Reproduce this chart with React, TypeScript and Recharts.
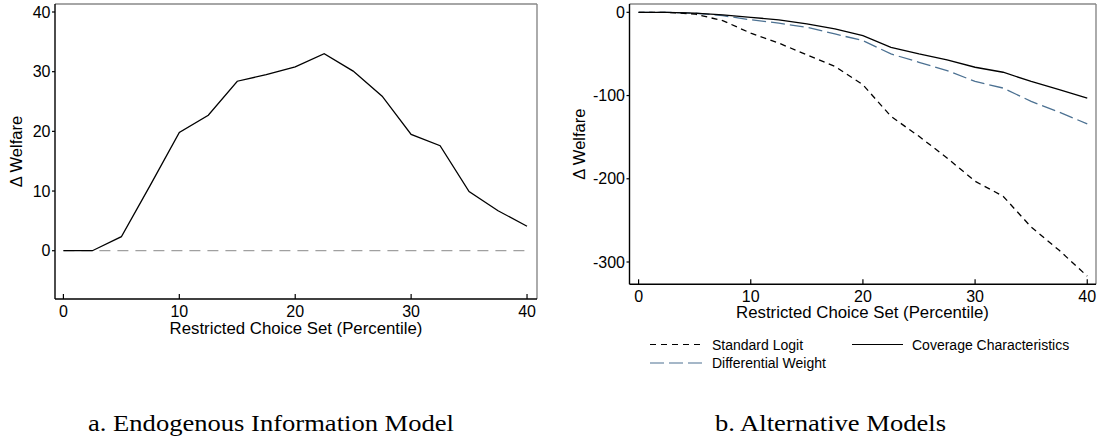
import React from "react";
import { LineChart, Line, XAxis, YAxis, ReferenceLine } from "recharts";

// ---- data ----
const percentiles = [0, 2.5, 5, 7.5, 10, 12.5, 15, 17.5, 20, 22.5, 25, 27.5, 30, 32.5, 35, 37.5, 40];
const endogenousWelfare = [0, 0, 2.35, 11, 19.8, 22.7, 28.4, 29.5, 30.8, 33.0, 30.1, 25.9, 19.5, 17.6, 9.9, 6.7, 4.1];
const standardLogit = [0, 0, -2, -10, -25, -37, -51, -65, -87, -125, -149, -175, -203, -221, -258, -286, -317];
const coverageCharacteristics = [0, 0, -1, -3, -6, -9, -14, -20, -28, -42, -50, -57, -66, -72, -83, -93, -103];
const differentialWeight = [0, 0, -1, -4, -9, -13, -18, -26, -34, -50, -60, -70, -83, -91, -107, -120, -134];

const xTicks = [0, 10, 20, 30, 40];
const leftYTicks = [0, 10, 20, 30, 40];
const rightYTicks = [-300, -200, -100, 0];

const xAxisTitle = "Restricted Choice Set (Percentile)";
const yAxisTitle = "\u0394 Welfare";
const legendLabels = ["Standard Logit", "Coverage Characteristics", "Differential Weight"];
const captions = ["a. Endogenous Information Model", "b. Alternative Models"];

const leftData = percentiles.map((p, i) => ({ p, w: endogenousWelfare[i] }));
const rightData = percentiles.map((p, i) => ({
  p,
  sl: standardLogit[i],
  cc: coverageCharteristicsSafe(i),
  dw: differentialWeight[i],
}));
function coverageCharteristicsSafe(i: number) {
  return coverageCharacteristics[i];
}

const FONT = "'Liberation Sans', Arial, Helvetica, sans-serif";
const BLUE = "#4c7192";

const XTick = (props: any) => {
  const { x, y, payload } = props;
  return (
    <g>
      <line x1={x} x2={x} y1={y} y2={y - 5} stroke="#000" strokeWidth={1.2} />
      <text x={x} y={y + 17.5} textAnchor="middle" fontSize={16} fontFamily={FONT} fill="#000">
        {payload.value}
      </text>
    </g>
  );
};

const yTickStyle = { fontSize: 16, fontFamily: FONT, fill: "#000" };

export default function App() {
  return (
    <div style={{ position: "absolute", left: 0, top: 0, width: 1099, height: 442, background: "#fff" }}>
      <div style={{ position: "absolute", left: 0, top: 0 }}>
        <LineChart width={550} height={340} data={leftData} margin={{ top: 4, right: 13, bottom: 0, left: 0 }}>
          <XAxis
            dataKey="p"
            type="number"
            domain={[-0.725, 40.86]}
            ticks={xTicks}
            allowDataOverflow
            height={41}
            tickSize={0}
            tickMargin={0}
            tickLine={false}
            tick={<XTick />}
            axisLine={{ stroke: "#000", strokeWidth: 1.4 }}
            interval={0}
          />
          <YAxis
            type="number"
            domain={[-8.09, 41.34]}
            ticks={leftYTicks}
            allowDataOverflow
            width={55}
            tickSize={3}
            tickMargin={1.5}
            tick={yTickStyle}
            tickLine={{ stroke: "#000", strokeWidth: 1.2 }}
            axisLine={{ stroke: "#000", strokeWidth: 1.4 }}
            interval={0}
          />
          <ReferenceLine y={41.34} stroke="#888" strokeWidth={1.4} />
          <ReferenceLine x={40.86} stroke="#888" strokeWidth={1.4} />
          <ReferenceLine
            segment={[{ x: 0, y: 0 }, { x: 40, y: 0 }]}
            stroke="#a0a0a0"
            strokeWidth={1.3}
            strokeDasharray="11 7"
          />
          <Line dataKey="w" stroke="#000" strokeWidth={1.3} dot={false} isAnimationActive={false} />
        </LineChart>
      </div>
      <div style={{ position: "absolute", left: 550, top: 0 }}>
        <LineChart width={549} height={340} data={rightData} margin={{ top: 4, right: 3, bottom: 0, left: 0 }}>
          <XAxis
            dataKey="p"
            type="number"
            domain={[-0.81, 40.78]}
            ticks={xTicks}
            allowDataOverflow
            height={55.7}
            tickSize={0}
            tickMargin={0}
            tickLine={false}
            tick={<XTick />}
            axisLine={{ stroke: "#000", strokeWidth: 1.4 }}
            interval={0}
          />
          <YAxis
            type="number"
            domain={[-326.8, 10]}
            ticks={rightYTicks}
            allowDataOverflow
            width={79.5}
            tickSize={3}
            tickMargin={1.5}
            tick={yTickStyle}
            tickLine={{ stroke: "#000", strokeWidth: 1.2 }}
            axisLine={{ stroke: "#000", strokeWidth: 1.4 }}
            interval={0}
          />
          <ReferenceLine y={10} stroke="#888" strokeWidth={1.4} />
          <ReferenceLine x={40.78} stroke="#888" strokeWidth={1.4} />
          <Line dataKey="dw" stroke={BLUE} strokeWidth={1.3} strokeDasharray="14 5" dot={false} isAnimationActive={false} />
          <Line dataKey="cc" stroke="#000" strokeWidth={1.3} dot={false} isAnimationActive={false} />
          <Line dataKey="sl" stroke="#000" strokeWidth={1.3} strokeDasharray="6 4.5" dot={false} isAnimationActive={false} />
        </LineChart>
      </div>
      <svg
        width={1099}
        height={442}
        style={{ position: "absolute", left: 0, top: 0, pointerEvents: "none" }}
      >
        {/* axis titles */}
        <text x={296} y={334} textAnchor="middle" fontSize={16.8} fontFamily={FONT} fill="#000">
          {xAxisTitle}
        </text>
        <text x={862.5} y={318.3} textAnchor="middle" fontSize={16.8} fontFamily={FONT} fill="#000">
          {xAxisTitle}
        </text>
        <text
          x={0}
          y={0}
          transform="translate(22,151.5) rotate(-90)"
          textAnchor="middle"
          fontSize={16.5}
          fontFamily={FONT}
          fill="#000"
        >
          {yAxisTitle}
        </text>
        <text
          x={0}
          y={0}
          transform="translate(585,144.2) rotate(-90)"
          textAnchor="middle"
          fontSize={16.5}
          fontFamily={FONT}
          fill="#000"
        >
          {yAxisTitle}
        </text>
        {/* legend */}
        <line x1={650} x2={702} y1={344.5} y2={344.5} stroke="#000" strokeWidth={1.1} strokeDasharray="6 5" />
        <text x={712} y={349.5} fontSize={14} fontFamily={FONT} fill="#000">
          {legendLabels[0]}
        </text>
        <line x1={852} x2={903} y1={344.5} y2={344.5} stroke="#000" strokeWidth={1.1} />
        <text x={912} y={349.5} fontSize={14} fontFamily={FONT} fill="#000">
          {legendLabels[1]}
        </text>
        <line x1={650} x2={702} y1={363} y2={363} stroke={BLUE} strokeWidth={1.1} strokeDasharray="14 5" />
        <text x={712} y={368} fontSize={14} fontFamily={FONT} fill="#000">
          {legendLabels[2]}
        </text>
        {/* captions */}
        <text
          x={88}
          y={431}
          fontSize={23}
          fontFamily="'Liberation Serif', 'Times New Roman', serif"
          fill="#000"
          textLength={366}
          lengthAdjust="spacingAndGlyphs"
        >
          {captions[0]}
        </text>
        <text
          x={715}
          y={431}
          fontSize={23}
          fontFamily="'Liberation Serif', 'Times New Roman', serif"
          fill="#000"
          textLength={231}
          lengthAdjust="spacingAndGlyphs"
        >
          {captions[1]}
        </text>
      </svg>
    </div>
  );
}
